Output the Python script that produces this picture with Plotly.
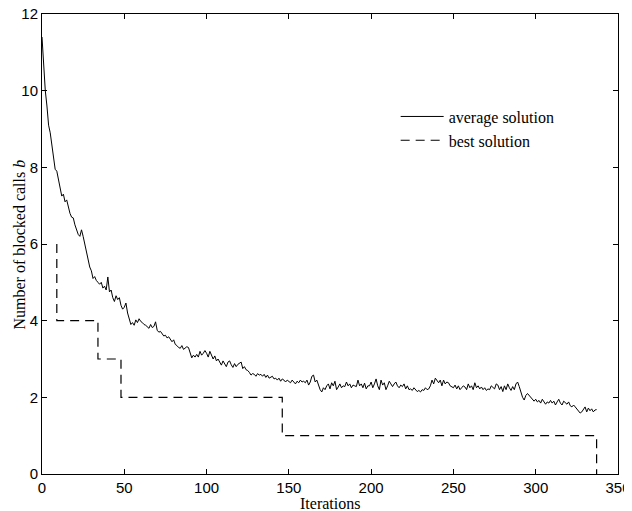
import plotly.graph_objects as go

avg_values = [
    11.4, 10.6, 10.0, 9.6, 9.1, 8.9, 8.6, 8.2, 7.95, 7.9,
    7.7, 7.5, 7.25, 7.3, 7.1, 7.15, 6.95, 6.8, 6.7, 6.68,
    6.5, 6.35, 6.25, 6.2, 6.37, 6.2, 6.0, 5.85, 5.6, 5.4,
    5.3, 5.1, 5.15, 5.05, 5.0, 4.95, 5.0, 4.85, 4.9, 4.8,
    5.14, 4.75, 4.8, 4.6, 4.5, 4.65, 4.55, 4.6, 4.4, 4.3,
    4.35, 4.46, 4.2, 4.05, 3.9, 3.95, 3.88, 4.02, 3.95, 4.05,
    3.98, 3.95, 3.9, 3.88, 3.85, 3.8, 3.9, 3.82, 3.85, 3.97,
    3.75, 3.7, 3.72, 3.65, 3.6, 3.62, 3.55, 3.58, 3.52, 3.45,
    3.5, 3.38, 3.35, 3.3, 3.28, 3.35, 3.25, 3.28, 3.32, 3.3,
    3.15, 3.03, 3.1, 3.05, 3.12, 3.05, 3.2, 3.1, 3.15, 3.22,
    3.15, 3.05, 3.2, 3.1, 3.0, 3.08, 2.95, 3.0, 2.9, 2.84,
    2.95, 2.88, 2.8, 2.92, 2.95, 2.85, 2.78, 2.88, 2.8, 2.86,
    2.9, 2.92, 2.75, 2.8, 2.72, 2.7, 2.65, 2.58, 2.62, 2.6,
    2.55, 2.62, 2.58, 2.6, 2.55, 2.6, 2.52, 2.58, 2.5, 2.52,
    2.55, 2.48, 2.5, 2.45, 2.5, 2.42, 2.48, 2.45, 2.4, 2.45,
    2.42, 2.38, 2.45, 2.4, 2.35, 2.42, 2.38, 2.45, 2.4, 2.42,
    2.38, 2.45, 2.32, 2.4, 2.55, 2.58, 2.4, 2.45, 2.3, 2.2,
    2.14, 2.25, 2.2, 2.3, 2.35, 2.22, 2.38, 2.3, 2.42, 2.2,
    2.27, 2.35, 2.25, 2.3, 2.28, 2.4, 2.3, 2.35, 2.25, 2.32,
    2.3, 2.28, 2.45, 2.3, 2.35, 2.25, 2.37, 2.22, 2.3, 2.3,
    2.4, 2.25, 2.35, 2.48, 2.3, 2.2, 2.45, 2.32, 2.38, 2.2,
    2.3, 2.42, 2.35, 2.28, 2.35, 2.4, 2.3, 2.25, 2.32, 2.28,
    2.35, 2.22, 2.3, 2.2, 2.22, 2.18, 2.25, 2.2, 2.15, 2.18,
    2.14, 2.2, 2.18, 2.25, 2.2, 2.22, 2.3, 2.45, 2.35, 2.5,
    2.42, 2.38, 2.45, 2.3, 2.45, 2.35, 2.4, 2.38, 2.3, 2.28,
    2.25, 2.32, 2.22, 2.3, 2.2, 2.25, 2.3, 2.27, 2.2, 2.35,
    2.25, 2.3, 2.2, 2.38, 2.25, 2.3, 2.22, 2.27, 2.2, 2.25,
    2.18, 2.22, 2.2, 2.3, 2.25, 2.22, 2.35, 2.32, 2.2, 2.28,
    2.15, 2.3, 2.2, 2.35, 2.25, 2.18, 2.28, 2.2, 2.35, 2.4,
    2.28, 2.1, 2.0, 1.93, 2.05, 2.1, 2.05, 2.0, 1.95, 1.9,
    1.95, 1.88, 1.92, 1.85, 1.95, 1.9, 1.82, 1.88, 1.85, 1.92,
    1.85, 1.9, 1.8, 1.88, 1.95, 1.85, 1.8, 1.9, 1.85, 1.82,
    1.88, 1.78, 1.75, 1.8, 1.75, 1.7, 1.65, 1.59, 1.62, 1.7,
    1.75, 1.62, 1.72, 1.65, 1.7, 1.62, 1.67, 1.68,
]
avg_iters = list(range(0, len(avg_values)))

best_iters = [9, 9, 34, 48, 146, 337]
best_values = [6, 4, 3, 2, 1, 0]

x_ticks = [0, 50, 100, 150, 200, 250, 300, 350]
y_ticks = [0, 2, 4, 6, 8, 10, 12]

x_title = "Iterations"
y_title = "Number of blocked calls <i>b</i>"

fig = go.Figure()
fig.add_trace(go.Scatter(
    x=avg_iters, y=avg_values, mode="lines", name="average solution",
    line=dict(color="black", width=1),
))
fig.add_trace(go.Scatter(
    x=best_iters, y=best_values, mode="lines", name="best solution",
    line=dict(color="black", width=1.2, dash="9px,6px", shape="hv"),
))

axis_common = dict(
    showline=True, linecolor="black", linewidth=1, mirror="ticks",
    ticks="inside", ticklen=5, tickcolor="black", showgrid=False,
    zeroline=False, automargin=False, ticklabeloverflow="allow",
    tickfont=dict(family="Liberation Sans, Arial", size=15, color="black"),
)

title_font = dict(family="Liberation Serif, Times New Roman", size=16, color="black")

fig.update_layout(
    width=632, height=511,
    margin=dict(l=34, r=22, t=6, b=45),
    paper_bgcolor="white", plot_bgcolor="white",
    xaxis=dict(range=[0, 350], tickvals=x_ticks, **axis_common),
    yaxis=dict(range=[0, 12], tickvals=y_ticks, **axis_common),
    legend=dict(x=0.614, y=0.814, xanchor="left", yanchor="top",
                bgcolor="rgba(0,0,0,0)", borderwidth=0, itemwidth=43,
                font=dict(family="Liberation Serif, Times New Roman", size=16, color="black"),
                tracegroupgap=0),
    showlegend=True,
    annotations=[
        dict(text=x_title, xref="paper", yref="paper", x=0.5, y=0,
             xanchor="center", yanchor="middle", yshift=-29,
             showarrow=False, font=title_font),
        dict(text=y_title, xref="paper", yref="paper", x=0, y=0.5,
             xanchor="center", yanchor="middle", xshift=-23.5, yshift=-1,
             textangle=-90, showarrow=False, font=title_font),
    ],
)

fig.write_html("out.html")
